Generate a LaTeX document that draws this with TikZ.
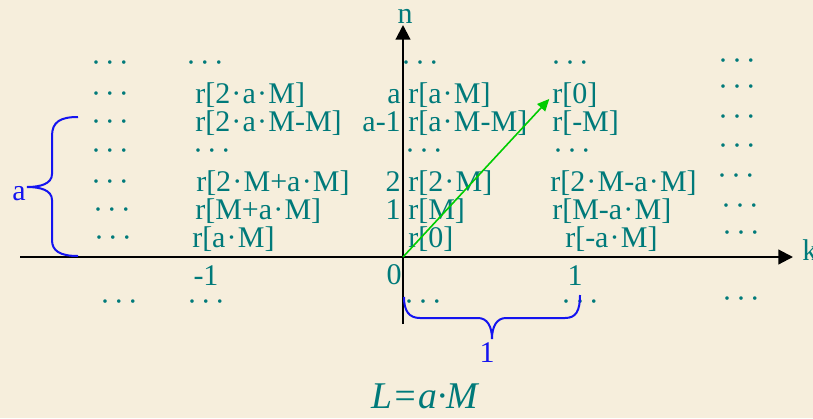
\documentclass[tikz,border=0pt]{standalone}
\usepackage{fontspec}
\setmainfont{Liberation Serif}
\usetikzlibrary{arrows.meta,positioning}
\definecolor{paperbg}{RGB}{246,238,220}
\definecolor{tealtxt}{RGB}{0,122,122}
\definecolor{vecgreen}{RGB}{0,204,0}
\definecolor{braceblue}{RGB}{20,20,240}
\newcommand{\dd}{·\kern3pt·\kern3pt·}
\newcommand{\md}{\kern0.9pt·\kern0.9pt}
\tikzset{
  cell/.style={
    text=tealtxt,
    font={\fontsize{22.5}{26}\selectfont},
    inner sep=0pt,
    text height=15.7pt,
    text depth=4.5pt,
    anchor=west
  },
  dots/.style={cell, anchor=center, text height=11.2pt, text depth=0pt},
  num/.style={cell, anchor=center},
  lbl/.style={cell, anchor=east},
  bluelbl/.style={cell, anchor=center, text=braceblue},
  axis/.style={line width=1.6pt, -{Triangle[length=11pt,width=11pt]}},
  vec/.style={line width=1.2pt, draw=vecgreen, -{Triangle[length=9pt,width=8pt]}},
  brc/.style={line width=1.5pt, draw=braceblue}
}

\begin{document}
\begin{tikzpicture}[x=0.75pt,y=-0.75pt]
    \fill[paperbg] (0,0) rectangle (813,418);
    \useasboundingbox (0,0) rectangle (813,418);

    % axes
    \coordinate (O) at (403,257);
    \coordinate (kl) at (20,257);
    \coordinate (kr) at (793,257);
    \coordinate (nb) at (403,324);
    \coordinate (nt) at (403,25);
    \draw[axis] (kl) -- (kr);
    \draw[axis] (nb) -- (nt);
    \node[num] (n) at (405,16) {n};
    \node[cell] (k) at (802,253) {k};

    % column k=-2
    \node[dots] (c1t) at (110,65) {\dd};
    \node[dots] (c1a) at (110,96) {\dd};
    \node[dots] (c1b) at (110,124) {\dd};
    \node[dots] (c1d) at (110,153) {\dd};
    \node[dots] (c1two) at (110,184) {\dd};
    \node[dots] (c1one) at (112,212) {\dd};
    \node[dots] (c1zero) at (113,240) {\dd};

    % column k=-1
    \node[dots] (c2t) at (205,65) {\dd};
    \node[cell] (c2a) at (195,96) {r[2\md a\md M]};
    \node[cell] (c2b) at (195,124) {r[2\md a\md M-M]};
    \node[dots] (c2d) at (212,153) {\dd};
    \node[cell] (c2two) at (196,184) {r[2\md M+a\md M]};
    \node[cell] (c2one) at (195,212) {r[M+a\md M]};
    \node[cell] (c2zero) at (192,240) {r[a\md M]};

    % column k=0
    \node[dots] (c3t) at (420,65) {\dd};
    \node[cell] (c3a) at (408,96) {r[a\md M]};
    \node[cell] (c3b) at (408,124) {r[a\md M-M]};
    \node[dots] (c3d) at (424,153) {\dd};
    \node[cell] (c3two) at (408,184) {r[2\md M]};
    \node[cell] (c3one) at (408,212) {r[M]};
    \node[cell] (c3zero) at (408,240) {r[0]};

    % column k=1
    \node[dots] (c4t) at (570,65) {\dd};
    \node[cell] (c4a) at (552,96) {r[0]};
    \node[cell] (c4b) at (552,124) {r[-M]};
    \node[dots] (c4d) at (572,153) {\dd};
    \node[cell] (c4two) at (550,184) {r[2\md M-a\md M]};
    \node[cell] (c4one) at (552,212) {r[M-a\md M]};
    \node[cell] (c4zero) at (565,240) {r[-a\md M]};

    % column k=2
    \node[dots] (c5t) at (737,63) {\dd};
    \node[dots] (c5a) at (737,89) {\dd};
    \node[dots] (c5b) at (737,119) {\dd};
    \node[dots] (c5d) at (737,148) {\dd};
    \node[dots] (c5two) at (736,178) {\dd};
    \node[dots] (c5one) at (740,208) {\dd};
    \node[dots] (c5zero) at (741,235) {\dd};

    % n labels
    \node[lbl] (na) at (401,96) {a};
    \node[lbl] (nb1) at (401,124) {a-1};
    \node[lbl] (ntwo) at (401,184) {2};
    \node[lbl] (none) at (401,212) {1};

    % k labels
    \node[lbl] (kzero) at (402,277) {0};
    \node[num] (kminus) at (206,278) {-1};
    \node[num] (kone) at (575,278) {1};

    % below the k axis
    \node[dots] (b1) at (119,304) {\dd};
    \node[dots] (b2) at (206,304) {\dd};
    \node[dots] (b3) at (423,304) {\dd};
    \node[dots] (b4) at (580,304) {\dd};
    \node[dots] (b5) at (741,301) {\dd};

    \draw[vec, shorten >=3pt] (O) -- (c4a.west);

    % braces
    \draw[brc] (78,117) .. controls (60,117) and (52,122) .. (52,136)
      -- (52,174) .. controls (52,184) and (40,187) .. (27,187)
      .. controls (40,187) and (52,190) .. (52,200)
      -- (52,240) .. controls (52,251) and (60,256) .. (78,256);
    \node[bluelbl] (alen) at (19,193) {a};

    \draw[brc] (404,297) .. controls (404,311) and (409,318) .. (420,318)
      -- (478,318) .. controls (487,318) and (492,326) .. (492,339)
      .. controls (492,326) and (497,318) .. (506,318)
      -- (565,318) .. controls (576,318) and (580,311) .. (580,295);
    \node[bluelbl] (klen) at (487,355) {1};

    \node[text=tealtxt, anchor=base, inner sep=0pt,
      font={\itshape\fontsize{28.3}{32}\selectfont}] (eq) at (425,408) {L=a·M};
\end{tikzpicture}
\end{document}
